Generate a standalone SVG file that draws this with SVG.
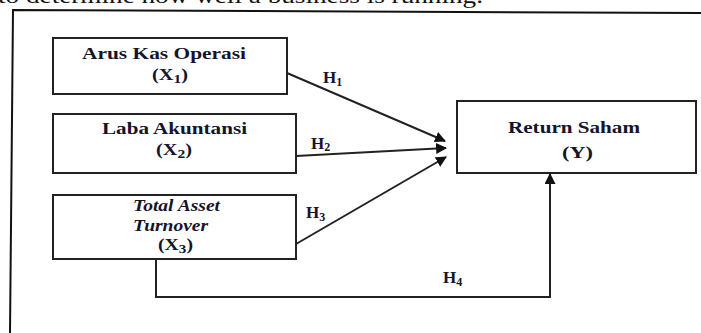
<svg xmlns="http://www.w3.org/2000/svg" width="701" height="333" viewBox="0 0 701 333">
<style>
.box{fill:#fff;stroke:#222;stroke-width:2}
.t{font-family:"Liberation Serif","Times New Roman",serif;font-weight:bold;fill:#14142a}
.n{font-size:17px}
.h{font-size:17px}
.c{stroke:#222;stroke-width:2;fill:none}
</style>
<defs>
<marker id="ah" viewBox="0 0 10 10" refX="9" refY="5" markerWidth="5.5" markerHeight="5.5" orient="auto" markerUnits="strokeWidth">
<path d="M0,0 L10,5 L0,10 z" fill="#111"/>
</marker>
</defs>
<rect width="701" height="333" fill="#fff"/>
<text x="-2" y="3" font-family="Liberation Serif,serif" font-size="20" fill="#111" textLength="485" lengthAdjust="spacingAndGlyphs">to determine how well a business is running.</text>
<g id="frame">
<path d="M10,333 L13,10 L701,13" fill="none" stroke="#111" stroke-width="2"/>
</g>
<g id="x1">
<rect class="box" x="53" y="38" width="234" height="56"/>
<text class="t n" x="82" y="59" textLength="164" lengthAdjust="spacingAndGlyphs">Arus Kas Operasi</text>
<text class="t n" x="152" y="80" textLength="36" lengthAdjust="spacingAndGlyphs">(X<tspan font-size="13" dy="3">1</tspan><tspan dy="-3">)</tspan></text>
</g>
<g id="x2">
<rect class="box" x="53" y="114" width="243" height="59"/>
<text class="t n" x="102" y="134" textLength="145" lengthAdjust="spacingAndGlyphs">Laba Akuntansi</text>
<text class="t n" x="156" y="155" textLength="36" lengthAdjust="spacingAndGlyphs">(X<tspan font-size="13" dy="3">2</tspan><tspan dy="-3">)</tspan></text>
</g>
<g id="x3">
<rect class="box" x="53" y="195" width="243" height="64"/>
<text class="t n" x="133" y="211" font-style="italic" textLength="87" lengthAdjust="spacingAndGlyphs">Total Asset</text>
<text class="t n" x="133" y="231" font-style="italic" textLength="75" lengthAdjust="spacingAndGlyphs">Turnover</text>
<text class="t n" x="158" y="250" textLength="35" lengthAdjust="spacingAndGlyphs">(X<tspan font-size="13" dy="3">3</tspan><tspan dy="-3">)</tspan></text>
</g>
<g id="y">
<rect class="box" x="457" y="101" width="239" height="72"/>
<text class="t n" x="508" y="133" textLength="132" lengthAdjust="spacingAndGlyphs">Return Saham</text>
<text class="t n" x="562" y="158" textLength="31" lengthAdjust="spacingAndGlyphs">(Y)</text>
</g>
<g id="connectors">
<line class="c" x1="287" y1="73" x2="445" y2="141" marker-end="url(#ah)"/>
<line class="c" x1="296" y1="156" x2="446" y2="148" marker-end="url(#ah)"/>
<line class="c" x1="296" y1="244" x2="446" y2="157" marker-end="url(#ah)"/>
<path class="c" d="M156,259 L156,297 L550,297 L550,174" marker-end="url(#ah)"/>
</g>
<g id="labels">
<text class="t h" x="323" y="83">H<tspan font-size="12" dy="3">1</tspan></text>
<text class="t h" x="311" y="149">H<tspan font-size="12" dy="2">2</tspan></text>
<text class="t h" x="306" y="218">H<tspan font-size="12" dy="3">3</tspan></text>
<text class="t h" x="443" y="283">H<tspan font-size="12" dy="3">4</tspan></text>
</g>
</svg>
